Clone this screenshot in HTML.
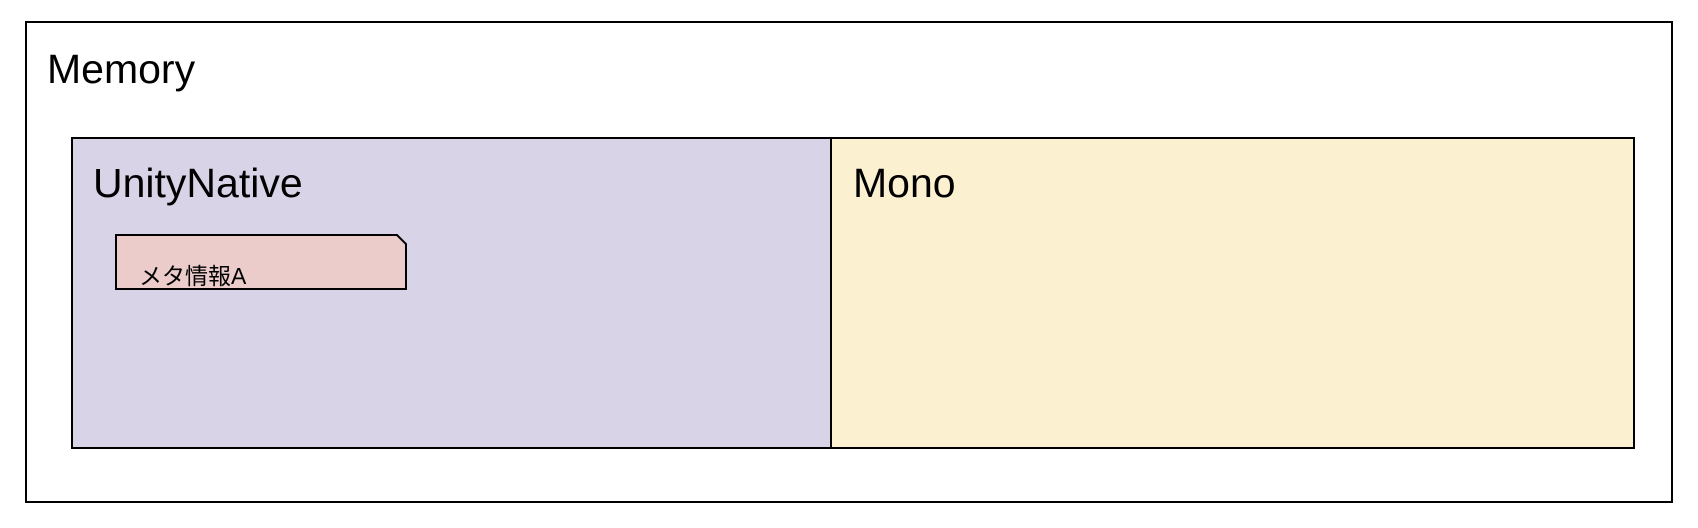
<!DOCTYPE html>
<html><head><meta charset="utf-8"><style>
html,body{margin:0;padding:0;background:#fff;width:1698px;height:528px;overflow:hidden}
svg text{font-family:"Liberation Sans","Noto Sans CJK JP",sans-serif;fill:#000}
</style></head><body>
<svg width="1698" height="528" xmlns="http://www.w3.org/2000/svg">
<rect x="26" y="22" width="1646" height="480" fill="#fff" stroke="#000" stroke-width="2"/>
<text x="47" y="83" font-size="41">Memory</text>
<rect x="72" y="138" width="759" height="310" fill="#d8d3e7" stroke="#000" stroke-width="2"/>
<rect x="831" y="138" width="803" height="310" fill="#fbf1d0" stroke="#000" stroke-width="2"/>
<text x="93" y="197" font-size="41">UnityNative</text>
<text x="853" y="197" font-size="41">Mono</text>
<path d="M116 235 H397 L406 244 V289 H116 Z" fill="#ebcccb" stroke="#000" stroke-width="2"/>
<text x="139" y="284" font-size="23">メタ情報A</text>
</svg>
</body></html>
